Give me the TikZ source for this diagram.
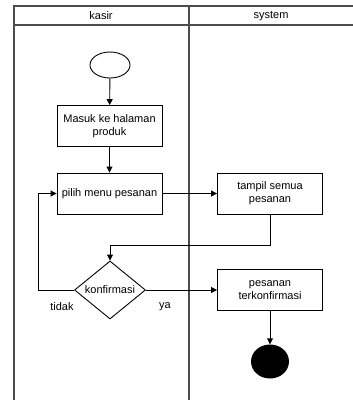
\documentclass[tikz,border=0pt]{standalone}
\usepackage{fontspec}
\setmainfont{Liberation Sans}
\usetikzlibrary{arrows.meta,shapes.geometric}
\begin{document}
\begin{tikzpicture}[x=1pt,y=-1pt,
  lane/.style={draw=black!70,line width=1.2pt},
  act/.style={draw,line width=0.9pt,minimum width=105pt,minimum height=41pt,
    align=center,font=\fontsize{11}{13}\selectfont,inner sep=2pt},
  flow/.style={draw,line width=0.9pt,-{Triangle[length=6pt,width=6pt]}},
  lbl/.style={font=\fontsize{11}{13}\selectfont}]
\useasboundingbox (0,0) rectangle (353,400);
% swimlane frame
\draw[lane] (353,6) -- (14,6) -- (14,400);
\draw[lane] (14,25) -- (353,25);
\draw[lane] (189,6) -- (189,400);
\node[lbl] (kasir) at (101,16) {kasir};
\node[lbl] (system) at (271,16) {system};
% activity nodes
\node[draw,ellipse,minimum width=40pt,minimum height=26pt,line width=0.9pt,inner sep=0pt] (start) at (110,65) {};
\node[act] (masuk) at (109.5,126) {Masuk ke halaman\\produk};
\node[act] (pilih) at (109.5,193.5) {pilih menu pesanan};
\node[act] (tampil) at (270,193.5) {tampil semua\\pesanan};
\node[draw,diamond,line width=0.9pt,inner sep=0pt,aspect=1.22,minimum width=71pt,minimum height=58pt,font=\fontsize{11}{13}\selectfont] (dec) at (110,290) {konfirmasi};
\node[act] (konf) at (270,290) {pesanan\\terkonfirmasi};
\node[ellipse,fill=black,minimum width=38pt,minimum height=34pt,inner sep=0pt] (end) at (270,361.5) {};
\node[lbl] (tidak) at (62,307) {tidak};
\node[lbl] (ya) at (165,307) {ya};
% connectors
\coordinate (join) at (110,245);
\coordinate (back) at (38,290);
\draw[flow] (start) -- (masuk);
\draw[flow] (masuk) -- (pilih);
\draw[flow] (pilih) -- (tampil);
\draw[flow] (tampil.south) |- (join) -- (dec.north);
\draw[flow] (dec.west) -- (back) |- (pilih.west);
\draw[flow] (dec.east) -- (konf.west);
\draw[flow] (konf) -- (end);
\end{tikzpicture}
\end{document}
